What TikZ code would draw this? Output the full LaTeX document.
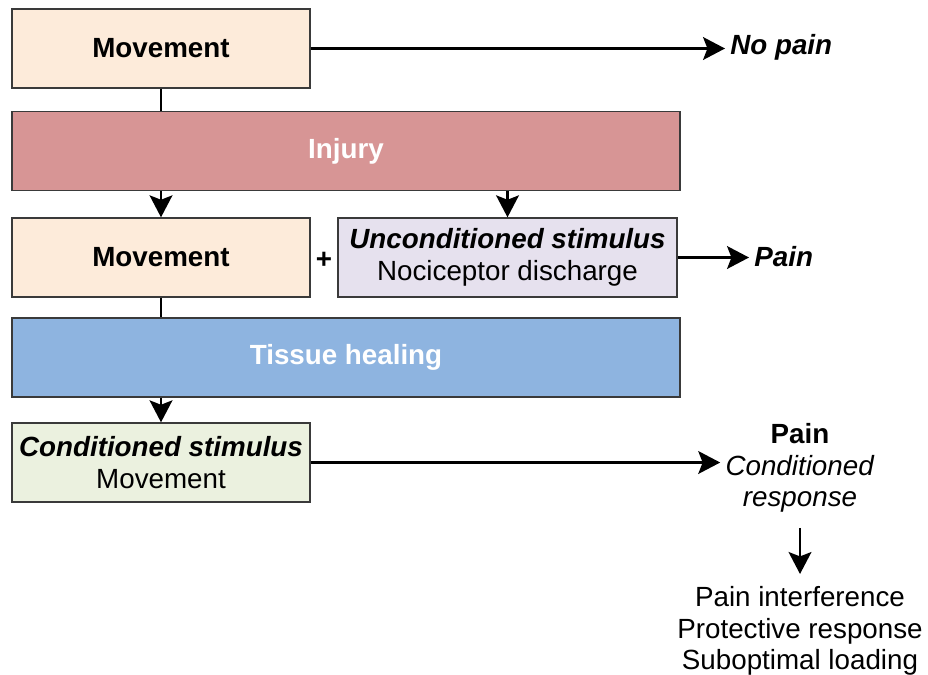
\documentclass[tikz,border=0pt]{standalone}
\usepackage{fontspec}
\setmainfont{Liberation Sans}
\usetikzlibrary{arrows.meta}
\definecolor{movefill}{HTML}{FDEBDA}
\definecolor{injfill}{HTML}{D79595}
\definecolor{uncfill}{HTML}{E6E1EE}
\definecolor{healfill}{HTML}{8EB4E0}
\definecolor{condfill}{HTML}{EBF1DF}
\definecolor{edge}{HTML}{3A3A3A}
\begin{document}
\begin{tikzpicture}[x=0.02cm, y=-0.02cm,
		box/.style={draw=edge, line width=0.8pt, inner sep=0pt, minimum height=1.58cm,
			align=center, font=\fontsize{15.8}{18}\selectfont},
		small box/.style={box, minimum width=5.96cm},
		wide box/.style={box, minimum width=13.36cm, text=white, font=\fontsize{15.8}{18}\selectfont\bfseries},
		outcome/.style={inner sep=0.1cm, align=center, font=\fontsize{15.8}{18}\selectfont},
		arr/.style={line width=1.2pt, -{Stealth[length=12.5pt, width=13pt, inset=2.5pt]}},
		link/.style={line width=1.2pt}]
			\useasboundingbox (0,0) rectangle (928,674);
			% boxes
			\node[small box, fill=movefill, font=\fontsize{15.8}{18}\selectfont\bfseries] (mov1) at (161,48.5) {Movement};
			\node[wide box, fill=injfill] (injury) at (346,151) {Injury};
			\node[small box, fill=movefill, font=\fontsize{15.8}{18}\selectfont\bfseries] (mov2) at (161,257.5) {Movement};
			\node[box, fill=uncfill, minimum width=6.78cm] (uncond) at (507.5,257.5) {\textbf{\textit{Unconditioned stimulus}}\\Nociceptor discharge};
			\node[wide box, fill=healfill] (heal) at (346,357.5) {Tissue healing};
			\node[small box, fill=condfill] (cond) at (161,462.5) {\textbf{\textit{Conditioned stimulus}}\\Movement};
			\node[font=\fontsize{15.8}{18}\selectfont\bfseries] (plus) at (324,260) {+};
			% outcomes
			\node[outcome, anchor=west, font=\fontsize{15.8}{18}\selectfont\bfseries\itshape] (nopain) at (725,47) {No pain};
			\node[outcome, anchor=west, font=\fontsize{15.8}{18}\selectfont\bfseries\itshape] (pain) at (749,257) {Pain};
			\node[outcome] (resp) at (800,468) {\textbf{Pain}\\\textit{Conditioned}\\\textit{response}};
			\node[outcome, anchor=north] (effects) at (800,581) {Pain interference\\Protective response\\Suboptimal loading};
			% connectors
			\draw[link] (mov1) -- (mov1 |- injury.north);
			\draw[link] (mov2) -- (mov2 |- heal.north);
			\draw[arr] (injury.south -| mov2) -- (mov2.north);
			\draw[arr] (injury.south -| uncond) -- (uncond.north);
			\draw[arr] (heal.south -| cond) -- (cond.north);
			\draw[arr] (mov1.east) -- (mov1.east -| nopain.west);
			\draw[arr] (uncond.east) -- (uncond.east -| pain.west);
			\draw[arr] (cond.east) -- (cond.east -| resp.west);
			\draw[arr] ([yshift=-0.2cm]resp.south) -- ([yshift=4pt]effects.north);
		\end{tikzpicture}
\end{document}
